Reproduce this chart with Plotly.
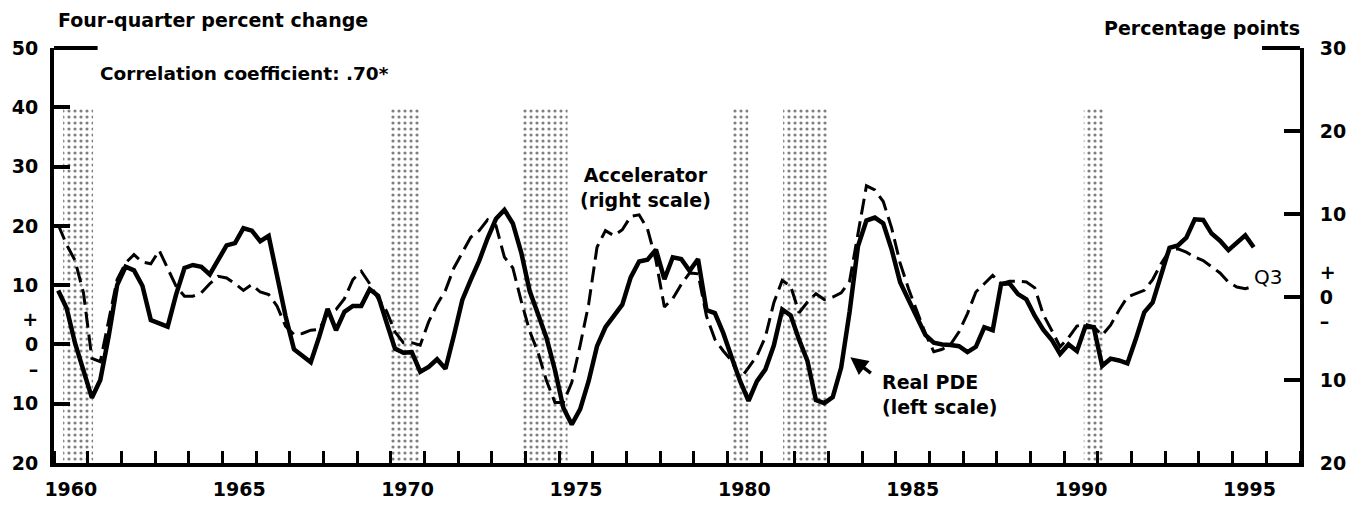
import plotly.graph_objects as go
import pandas as pd

# ---------------- data ----------------
quarters = pd.period_range("1960Q1", "1995Q3", freq="Q")

real_pde = [
    9.1, 6.1, 0.2, -4.6, -9.0, -6.0, 1.4, 10.0, 13.1, 12.5,
    9.9, 4.1, 3.6, 3.0, 8.4, 12.9, 13.4, 13.1, 11.8, 14.2,
    16.7, 17.1, 19.6, 19.2, 17.4, 18.3, 11.4, 4.8, -0.8, -2.0,
    -3.0, 1.3, 6.0, 2.4, 5.5, 6.5, 6.5, 9.3, 8.2, 3.7,
    -0.7, -1.4, -1.3, -4.6, -3.8, -2.5, -4.1, 1.5, 7.5, 10.9,
    14.1, 17.9, 21.2, 22.7, 20.4, 15.5, 9.0, 5.1, 1.1, -4.3,
    -10.7, -13.5, -10.9, -6.2, -0.3, 2.9, 4.9, 6.7, 11.3, 14.0,
    14.3, 16.0, 11.0, 14.7, 14.4, 12.4, 14.4, 5.8, 5.3, 1.9,
    -2.2, -6.2, -9.5, -6.2, -4.2, -0.2, 5.9, 4.9, 0.8, -2.8,
    -9.4, -9.9, -8.9, -3.9, 5.5, 16.6, 20.9, 21.4, 20.4, 16.0,
    10.5, 7.4, 4.4, 1.6, 0.3, 0.0, -0.1, -0.3, -1.3, -0.4,
    2.9, 2.4, 10.2, 10.3, 8.5, 7.6, 4.8, 2.5, 0.8, -1.6,
    0.0, -1.1, 3.0, 2.9, -3.6, -2.4, -2.7, -3.2, 0.9, 5.4,
    7.1, 11.9, 16.3, 16.7, 18.0, 21.1, 21.0, 18.7, 17.5, 15.9,
    17.1, 18.4, 16.4,
]

accelerator = [
    8.7, 6.3, 4.4, 0.5, -7.4, -7.8, -2.8, 2.1, 4.1, 5.1,
    4.2, 4.0, 5.6, 3.4, 1.3, 0.1, 0.1, 0.5, 1.6, 2.5,
    2.3, 1.6, 0.8, 1.5, 0.6, 0.3, -1.1, -3.5, -4.5, -4.4,
    -4.0, -3.9, -2.0, -1.5, -0.2, 2.1, 3.1, 1.6, -0.2, -1.7,
    -4.2, -5.5, -5.5, -5.8, -3.0, -0.9, 0.8, 3.5, 5.3, 7.2,
    8.0, 9.3, 8.6, 4.8, 3.5, -0.5, -4.1, -6.7, -10.1, -12.7,
    -12.7, -10.3, -5.8, -0.9, 6.0, 8.0, 7.4, 8.1, 9.7, 9.9,
    8.2, 4.4, -1.2, -0.2, 1.5, 2.9, 2.8, -2.3, -5.1, -6.5,
    -7.7, -9.9, -8.5, -7.1, -4.8, -0.7, 2.0, 1.3, -1.9, -0.6,
    0.4, -0.3, 0.0, 0.5, 1.9, 7.5, 13.4, 12.9, 11.5, 8.3,
    4.1, 1.0, -1.8, -4.4, -6.6, -6.3, -5.7, -4.2, -2.0, 0.6,
    1.6, 2.6, 1.6, 1.9, 1.9, 1.8, 1.1, -2.1, -4.0, -6.0,
    -4.9, -3.5, -3.3, -3.6, -4.6, -3.4, -1.6, 0.0, 0.4, 0.8,
    2.1, 4.0, 5.6, 5.8, 5.4, 4.8, 4.4, 3.7, 2.9, 1.8,
    1.2, 1.0, 1.3,
]

recession_start = [1960.27, 1970.0, 1973.91, 1980.14, 1981.65, 1990.58]
recession_end = [1961.16, 1970.86, 1975.25, 1980.62, 1982.99, 1991.2]
shade_bottom = -20
shade_top = 40

year_labels = ["1960", "1965", "1970", "1975", "1980", "1985", "1990", "1995"]
left_ticks = [-20, -10, 0, 10, 20, 30, 40, 50]
left_text = ["20", "10", "+<br>0<br>\u2013", "10", "20", "30", "40", "50"]
right_ticks = [-20, -10, 0, 10, 20, 30]
right_text = ["20", "10", "+<br>0<br>\u2013", "10", "20", "30"]

# ---------------- figure ----------------
x_q = [p.year + (p.quarter - 0.5) / 4 for p in quarters]
rec_mid = [(s + e) / 2 for s, e in zip(recession_start, recession_end)]
rec_w = [e - s for s, e in zip(recession_start, recession_end)]

FONT = "DejaVu Sans"
tickfont = dict(family=FONT, size=19, color="black", weight="bold")

fig = go.Figure()
fig.add_trace(go.Bar(
    x=rec_mid, y=[shade_top - shade_bottom] * len(rec_mid), base=shade_bottom,
    width=rec_w, yaxis="y", showlegend=False, hoverinfo="skip",
    marker=dict(color="white", line=dict(width=0),
                pattern=dict(shape=".", fgcolor="black", bgcolor="white",
                             size=6, solidity=0.22)),
))
fig.add_trace(go.Scatter(
    x=x_q, y=real_pde, mode="lines", yaxis="y", showlegend=False,
    line=dict(color="black", width=4.5),
))
fig.add_trace(go.Scatter(
    x=x_q, y=accelerator, mode="lines", yaxis="y2", showlegend=False,
    line=dict(color="black", width=3, dash="16px,7px"),
))

fig.update_layout(
    width=1367, height=512,
    margin=dict(l=53, r=67, t=48, b=40),
    paper_bgcolor="white", plot_bgcolor="white",
    font=dict(family=FONT, color="black"),
    showlegend=False,
    xaxis=dict(
        range=[1960, 1997], tickmode="array",
        tickvals=[int(y) + 0.5 for y in year_labels], ticktext=year_labels,
        ticks="", showline=True, linewidth=4, linecolor="black",
        showgrid=False, zeroline=False, tickfont=tickfont, ticklabelstandoff=6,
        minor=dict(tickmode="linear", tick0=1960, dtick=1, ticks="inside",
                   ticklen=12, tickwidth=3, tickcolor="black", showgrid=False),
    ),
    yaxis=dict(
        range=[-20, 50], tickmode="array", tickvals=left_ticks, ticktext=left_text,
        ticks="inside", ticklen=16, tickwidth=4, tickcolor="black",
        showline=True, linewidth=4, linecolor="black",
        showgrid=False, zeroline=False, tickfont=tickfont, ticklabelstandoff=8,
    ),
    yaxis2=dict(
        range=[-20, 30], overlaying="y", side="right", anchor="x",
        tickmode="array", tickvals=right_ticks, ticktext=right_text,
        ticks="inside", ticklen=16, tickwidth=4, tickcolor="black",
        showline=True, linewidth=4, linecolor="black",
        showgrid=False, zeroline=False, tickfont=tickfont, ticklabelstandoff=12,
    ),
)

# long ticks at the top of each scale
fig.add_shape(type="line", xref="paper", yref="paper", x0=0, x1=0.035, y0=1, y1=1,
              line=dict(color="black", width=4))
fig.add_shape(type="line", xref="paper", yref="paper", x0=0.9695, x1=1, y0=1, y1=1,
              line=dict(color="black", width=4))

bold = dict(family=FONT, size=19, color="black", weight="bold")
fig.add_annotation(text="Four-quarter percent change", xref="paper", yref="paper",
                   x=0.002, y=1.068, xanchor="left", yanchor="middle",
                   showarrow=False, font=bold)
fig.add_annotation(text="Percentage points", xref="paper", yref="paper",
                   x=1.0016, y=1.047, xanchor="right", yanchor="middle",
                   showarrow=False, font=bold)
fig.add_annotation(text="Correlation coefficient: .70*", xref="paper", yref="paper",
                   x=0.0353, y=0.939, xanchor="left", yanchor="middle",
                   showarrow=False, font=dict(family=FONT, size=18.5, color="black",
                                              weight="bold"))
fig.add_annotation(text="Accelerator<br>(right scale)", xref="paper", yref="paper",
                   x=0.475, y=0.665, xanchor="center", yanchor="middle",
                   showarrow=False, font=bold)
fig.add_annotation(text="Real PDE<br>(left scale)", xref="paper", yref="paper",
                   x=0.663, y=0.165, xanchor="left", yanchor="middle", align="left",
                   showarrow=False, font=bold)
fig.add_annotation(text="Q3", xref="paper", yref="paper",
                   x=0.974, y=0.448, xanchor="center", yanchor="middle",
                   showarrow=False, font=dict(family=FONT, size=20, color="black"))
# pointer from label to the Real PDE line
fig.add_annotation(text="", xref="paper", yref="paper",
                   x=(850 - 53) / 1247, y=(472 - 364) / 424,
                   ax=22, ay=17, showarrow=True, arrowhead=2, arrowsize=1,
                   arrowwidth=3.5, arrowcolor="black")

fig.write_html("out.html", config={"displayModeBar": False},
               post_script="document.body.style.margin='0';document.body.style.overflow='hidden';")
